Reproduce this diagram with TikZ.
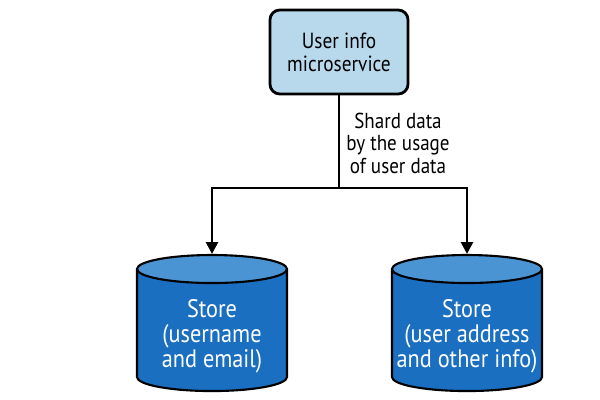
\documentclass[tikz,border=0pt]{standalone}
\usepackage{fontspec}
\setmainfont{PT Sans}[FakeStretch=0.88]
\usetikzlibrary{shapes.geometric}
\usetikzlibrary{arrows.meta}

\definecolor{boxblue}{RGB}{184,216,236}
\definecolor{storeblue}{RGB}{26,111,193}
\definecolor{storetop}{RGB}{74,148,212}

\begin{document}
\begin{tikzpicture}
[x=0.025cm,y=-0.025cm,%
  service/.style={shape=rectangle,rounded corners=7pt,draw,line width=2pt,%
    fill=boxblue,minimum width=3.45cm,minimum height=2.1cm,align=center,%
    font=\fontsize{15.6}{16.5}\selectfont},%
  store/.style={shape=cylinder,shape border rotate=90,aspect=0.19,draw,%
    line width=1.5pt,cylinder uses custom fill,cylinder body fill=storeblue,%
    cylinder end fill=storetop,text width=3.45cm,minimum width=3.75cm,%
    minimum height=3.4cm},%
  storetext/.style={text=white,align=center,yshift=-0.075cm,%
    font=\fontsize{18}{17.8}\selectfont},%
  link/.style={line width=2pt,-{Triangle[length=8.5pt,width=8.5pt]}},%
  note/.style={align=center,font=\fontsize{15.4}{16}\selectfont}]
\useasboundingbox (0,0) rectangle (600,400);
\node[service] (userinfo) at (339,52) {User info\\microservice};
\node[note] (shard) at (398,143) {Shard data\\by the usage\\of user data};
\node[store,label={[storetext]center:Store\\(username\\and email)}]
  (namestore) at (212,333) {};
\node[store,label={[storetext]center:Store\\(user address\\and other info)}]
  (addrstore) at (467,333) {};
\coordinate (split) at (339,188);
\draw[line width=2pt] (userinfo.south) -- (split);
\draw[link] (split) -| (namestore.north);
\draw[link] (split) -| (addrstore.north);
\end{tikzpicture}
\end{document}
